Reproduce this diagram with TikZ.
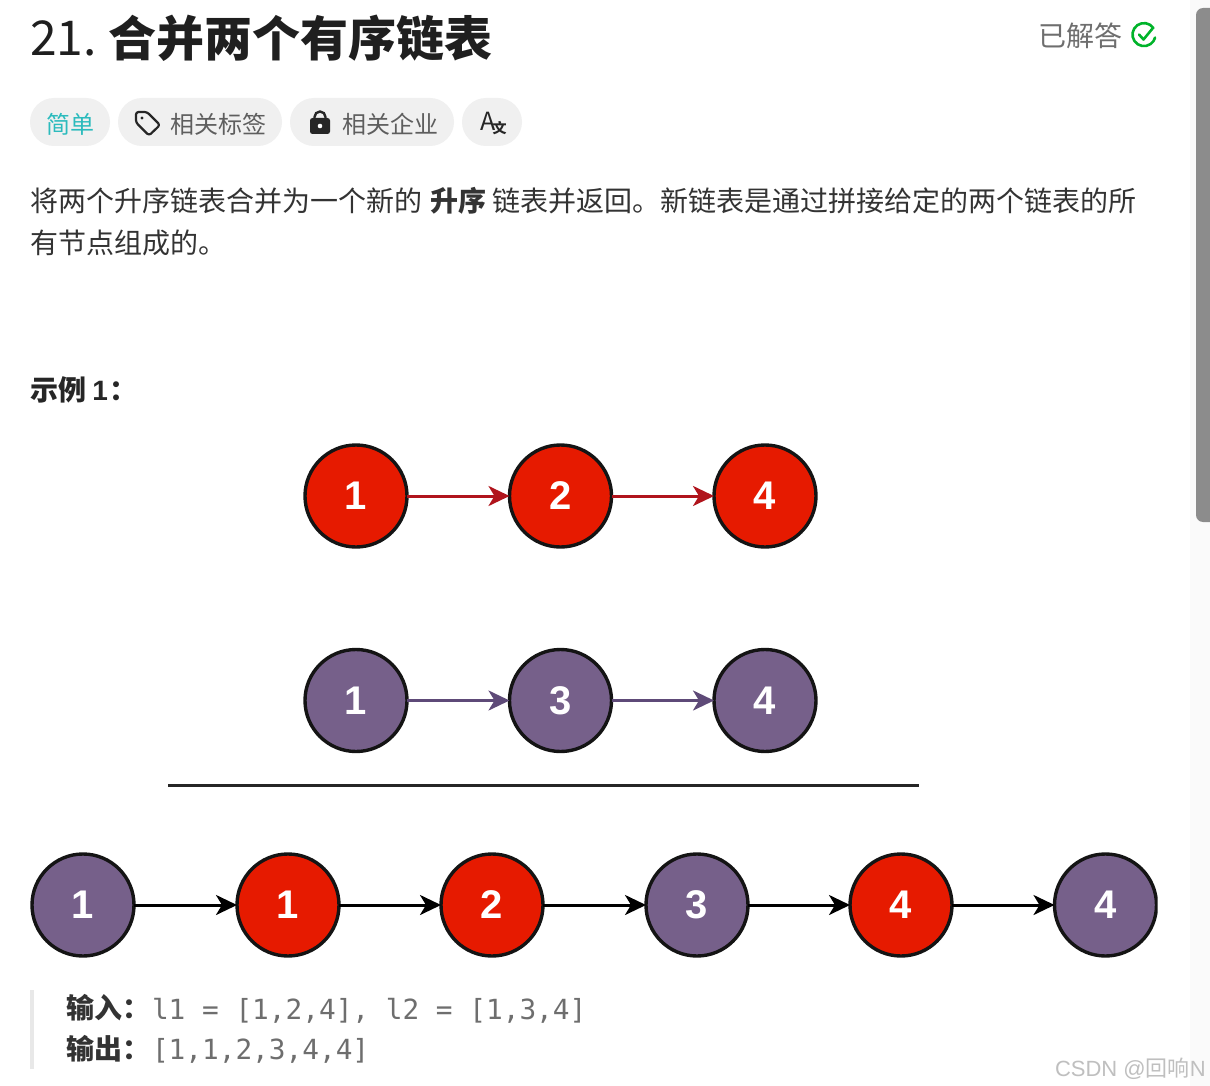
\documentclass[tikz,border=0pt]{standalone}
\usepackage{fontspec}
\usetikzlibrary{arrows.meta}
\setmainfont{Liberation Sans}
\newfontfamily\cjk{Noto Sans CJK SC}
\newfontfamily\digitfont{Liberation Sans}
\setmonofont{DejaVu Sans Mono}
\definecolor{nodered}{HTML}{E61A00}
\definecolor{nodepurple}{HTML}{76608A}
\definecolor{edgered}{HTML}{B0141C}
\definecolor{edgepurple}{HTML}{5E4A78}
\definecolor{pill}{HTML}{F0F0F0}
\definecolor{inktext}{HTML}{333333}
\definecolor{grey}{HTML}{6E6E6E}
\definecolor{teal}{HTML}{2CBBBD}
\definecolor{okgreen}{HTML}{00B32A}
\tikzset{
  x=1pt,y=-1pt,
  txt/.style={anchor=base west,inner sep=0pt,outer sep=0pt},
  listnode/.style={circle,draw=black!92,line width=3.4pt,minimum size=102pt,inner sep=0pt,outer sep=0pt,text=white,font=\digitfont\fontsize{40}{40}\selectfont\bfseries},
  rednode/.style={listnode,fill=nodered},
  purplenode/.style={listnode,fill=nodepurple},
  link/.style={line width=3pt,-{Stealth[length=21pt,width=20pt,inset=6pt]}},
  pillbox/.style={fill=pill,rounded corners=24pt},
}
\newcommand{\fs}[1]{\fontsize{#1}{#1}\selectfont}
\begin{document}
\begin{tikzpicture}
\useasboundingbox (0,0) rectangle (1210,1086);
\fill[white] (0,0) rectangle (1210,1086);
\fill[black!2] (1190,0) rectangle (1210,1086);
\fill[black!45,rounded corners=7pt] (1196,8) rectangle (1224,522);
% title
\node[txt,text=black!88] (num) at (30,56) {\cjk\fs{48}21.};
\node[txt,text=black!88] (title) at (108,56.5) {\cjk\fs{48}\bfseries 合并两个有序链表};
\node[txt,text=grey] (solved) at (1038,46.5) {\cjk\fs{28}已解答};
\draw[okgreen,line width=2.6pt,line cap=round] (1153.4,28) arc[start angle=-35,end angle=-345,radius=11.5];
\draw[okgreen,line width=2.6pt,line cap=round,line join=round] (1139,34.5) -- (1143.5,39.5) -- (1152.5,28.5);
% pills
\fill[pillbox] (30,98) rectangle (110,146);
\fill[pillbox] (118,98) rectangle (282,146);
\fill[pillbox] (290,98) rectangle (454,146);
\fill[pillbox] (462,98) rectangle (522,146);
\node[txt,text=teal] (easy) at (46,133.5) {\cjk\fs{24}简单};
\node[txt,text=grey!85!black] (tags) at (170,133.5) {\cjk\fs{24}相关标签};
\node[txt,text=grey!85!black] (firms) at (342,133.5) {\cjk\fs{24}相关企业};
\draw[black!85,line width=2.2pt,line join=round,rounded corners=2.5pt] (136,112) -- (147,112) -- (160,125) -- (149,135.5) -- (136,122.5) -- cycle;
\fill[black!85] (142,118) circle[radius=1.6];
\fill[black!85,rounded corners=2.5pt] (310,118) rectangle (330,134);
\draw[black!85,line width=2.4pt] (314.5,119) -- (314.5,117) arc[start angle=180,end angle=360,radius=5.5] -- (325.5,119);
\fill[white] (320,126) circle[radius=2.3];
\node[txt,text=black!85] (transA) at (480,131) {\cjk\fs{25}A};
\node[txt,text=black!85] (transB) at (492.5,133.5) {\cjk\fs{14}\bfseries 文};
% description
\node[txt,text=inktext] (desc1) at (30,212) {\cjk\fs{28}将两个升序链表合并为一个新的\hspace{8pt}{\bfseries 升序}\hspace{7pt}链表并返回。新链表是通过拼接给定的两个链表的所};
\node[txt,text=inktext] (desc2) at (30,253) {\cjk\fs{28}有节点组成的。};
\node[txt,text=black!85] (example) at (30,400.5) {\cjk\fs{28}\bfseries 示例 {\digitfont 1}\hspace{2pt}：};
% list 1
\node[rednode] (a1) at (356,496) {1};
\node[rednode] (a2) at (560.5,496) {2};
\node[rednode] (a3) at (765,496) {4};
\draw[link,edgered] (a1) -- (a2);
\draw[link,edgered] (a2) -- (a3);
% list 2
\node[purplenode] (b1) at (356,700.5) {1};
\node[purplenode] (b2) at (560.5,700.5) {3};
\node[purplenode] (b3) at (765,700.5) {4};
\draw[link,edgepurple] (b1) -- (b2);
\draw[link,edgepurple] (b2) -- (b3);
% rule
\coordinate (ruleL) at (168,785.5);
\coordinate (ruleR) at (919,785.5);
\draw[black!85,line width=3.4pt] (ruleL) -- (ruleR);
% merged list
\begin{scope}
\clip (0,800) rectangle (1157.5,957);
\node[purplenode] (c1) at (83,905) {1};
\node[rednode] (c2) at (288,905) {1};
\node[rednode] (c3) at (492,905) {2};
\node[purplenode] (c4) at (697,905) {3};
\node[rednode] (c5) at (901,905) {4};
\node[purplenode] (c6) at (1105.5,905) {4};
\end{scope}
\draw[link,black] (c1) -- (c2);
\draw[link,black] (c2) -- (c3);
\draw[link,black] (c3) -- (c4);
\draw[link,black] (c4) -- (c5);
\draw[link,black] (c5) -- (c6);
% example text
\fill[black!9] (30,990) rectangle (34,1069);
\node[txt,text=inktext] (inlabel) at (66,1018) {\cjk\fs{28}\bfseries 输入：};
\node[txt,text=grey] (invalue) at (152,1019) {\ttfamily\fs{27.75}l1 = [1,2,4], l2 = [1,3,4]};
\node[txt,text=inktext] (outlabel) at (66,1059) {\cjk\fs{28}\bfseries 输出：};
\node[txt,text=grey] (outvalue) at (152,1059) {\ttfamily\fs{27.75}[1,1,2,3,4,4]};
% watermark
\node[txt,text=black!25] (mark) at (1055,1076) {\fs{22}CSDN @{\cjk 回响}N};
\end{tikzpicture}
\end{document}
